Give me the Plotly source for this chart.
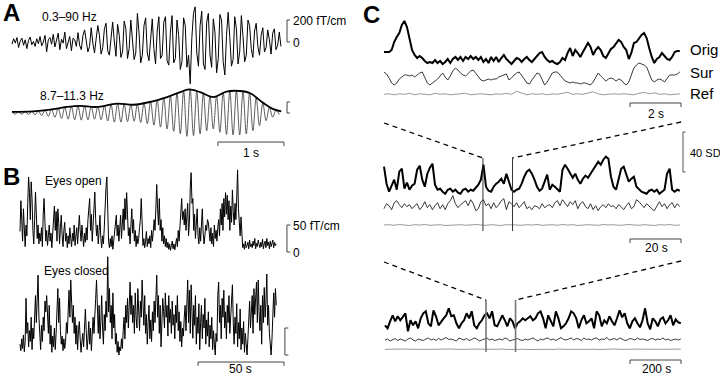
import numpy as np
import plotly.graph_objects as go

W, H = 720, 377
FONT = "Liberation Sans, Arial, Helvetica, sans-serif"

# ---------------- DATA ----------------
# Panel A: raw MEG (0.3-90 Hz), fT/cm, sampled every 0.025 s
raw_dt = 0.025
raw_a = [-20, 30, -10, 40, -50, 10, 35, -30, 20, -60, 15, 45, -25, 5, -40, 30, -15, 50, -35, 0,
         60, -90, 20, 40, -20, 70, -45, 10, 80, -70, 25, -10, 90, -60, 0, 50, -80, 35, 20, -40,
         85, -30, -70, 60,
         110, 20, -90, -40, 130, -10, -100, 30, 150, 60, -110, -50, 120, 170, -80, -120, 40, 180, 10, -130,
         160, 60, -140, -90, 190, 120, -150, -60, 200, 30, -160, -100, 260, 80, -190, -120, 150, 220, -100, -170,
         30, 210, -60, -200, 100, 230, -150, -120,
         180, 230, -170, -210, 90, 240, -190, -150, 200, 60, -250, -180, 220, 150, -230, -120, -380, 40, 260, 320,
         -100, -220, 150, 280,
         -200, -250, 180, 260, -120, -230, 210, 90, -280, -150, 250, 200, -180, -300, 60, 270, 40, -220, -160, 230,
         120, -200, -90, 240, 50, -180, -120, 200,
         150, -60, -140, 100, 170, -40, -120, 60, 130, -90, -50, 110, 20, -110, 80, 120, -70, -30, 90, -40]

# Panel A: filtered (8.7-11.3 Hz) signal, peaks/troughs every 0.05 s
filt_dt = 0.05
filt_a = [10, -10, 11, -12, 13, -14, 15, -17, 20, -24, 27, -31, 34, -39, 44, -49, 53, -56, 59, -62,
          64, -65, 64, -62, 60, -56, 56, -60, 66, -72, 78, -83, 85, -83, 80, -78, 76, -75, 80, -86,
          92, -97, 102, -110, 118, -128, 137, -145, 155, -166, 178, -190, 200, -212, 214, -205, 196, -190, 178, -163,
          150, -145, 155, -175, 190, -195, 198, -200, 200, -200, 196, -190, 180, -160, 138, -115, 90, -70, 50, -37,
          25, -15]
env_t = [0, 0.32, 0.58, 0.83, 1.03, 1.28, 1.59, 1.84, 2.09, 2.35, 2.55, 2.68, 2.85, 3.05, 3.25, 3.45, 3.61, 3.81, 3.96, 4.08]
env_a = [10, 15, 30, 55, 65, 55, 85, 75, 100, 145, 190, 215, 190, 145, 195, 200, 180, 90, 35, 15]

# Panel B: amplitude envelopes (fT/cm), one sample every 0.5 s
env_dt = 0.5
eyes_open = [38, 95, 60, 20, 80, 45, 10, 50, 30, 90,
             139, 110, 60, 130, 99, 40, 15, 60, 111, 70,
             25, 50, 15, 35, 20, 45, 10, 70, 99, 55,
             20, 40, 12, 30, 50, 20, 35, 8, 28, 60,
             85, 40, 75, 20, 80, 55, 15, 45, 68, 30,
             10, 40, 55, 20, 35, 8, 30, 15, 45, 25,
             10, 35, 20, 50, 12, 30, 45, 15, 55, 68,
             40, 20, 50, 25, 10, 35, 18, 45, 22, 60,
             85, 99, 40, 70, 20, 55, 90, 111, 60, 30,
             50, 15, 40, 68, 25, 8, 30, 15, 45, 90,
             120, 139, 60, 20, 8, 25, 10, 30, 5, 20,
             40, 60, 68, 30, 50, 20, 45, 68, 25, 55,
             80, 40, 99, 60, 110, 70, 30, 45, 15, 50,
             80, 35, 60, 20, 40, 10, 30, 15, 25, 45,
             60, 99, 30, 12, 25, 8, 20, 38, 10, 25,
             15, 30, 8, 40, 20, 35, 60, 40, 90, 125,
             80, 50, 99, 40, 60, 20, 45, 15, 30, 10,
             25, 8, 18, 5, 15, 3, 12, 20, 6, 15,
             4, 12, 25, 10, 40, 20, 55, 90, 99, 60,
             75, 50, 80, 40, 70, 90, 30, 55, 120, 147,
             90, 99, 40, 70, 25, 60, 80, 30, 15, 45,
             20, 50, 80, 35, 15, 30, 50, 40, 60, 55,
             35, 20, 45, 15, 35, 10, 50, 25, 40, 20,
             45, 60, 30, 80, 50, 90, 40, 99, 65, 110,
             70, 105, 60, 95, 40, 85, 55, 115, 75, 50,
             90, 60, 100, 152, 80, 55, 30, 65, 40, 8,
             15, 5, 20, 8, 12, 18, 6, 22, 10, 15,
             8, 20, 12, 25, 6, 16, 10, 22, 14, 8,
             18, 10, 24, 6, 15, 20, 8, 25, 12, 18,
             6, 20, 10, 16, 22, 8, 18, 12, 15]
eyes_closed = [20, 8, 30, 12, 37, 6, 25, 105, 40, 60,
               15, 45, 25, 70, 10, 50, 30, 85, 110, 60,
               123, 148, 70, 40, 10, 55, 25, 70, 45, 100,
               80, 110, 60, 40, 92, 20, 55, 5, 35, 15,
               50, 10, 40, 80, 123, 60, 105, 45, 20, 35,
               8, 30, 12, 25, 60, 40, 90, 120, 70, 139,
               100, 60, 92, 40, 70, 20, 55, 10, 45, 62,
               30, 5, 25, 40, 15, 60, 85, 45, 10, 30,
               62, 20, 50, 8, 35, 70, 40, 92, 105, 139,
               80, 40, 92, 30, 62, 110, 50, 20, 75, 45,
               100, 70, 182, 80, 123, 60, 92, 30, 115, 50,
               75, 20, 40, 5, 25, 0, 15, 8, 30, 12,
               45, 70, 30, 92, 60, 105, 50, 80, 135, 75,
               110, 60, 92, 40, 115, 70, 50, 123, 85, 45,
               100, 70, 139, 90, 55, 110, 40, 75, 20, 60,
               92, 30, 65, 25, 80, 45, 100, 60, 120, 148,
               70, 110, 40, 92, 15, 60, 105, 80, 50, 115,
               70, 92, 35, 110, 60, 85, 40, 100, 55, 75,
               30, 92, 60, 110, 45, 80, 25, 62, 15, 50,
               35, 70, 92, 45, 100, 139, 60, 120, 40, 130,
               80, 31, 92, 55, 110, 20, 70, 40, 95, 10,
               60, 92, 30, 75, 50, 105, 20, 65, 35, 80,
               15, 55, 30, 70, 10, 45, 20, 0, 40, 25,
               110, 135, 60, 92, 30, 105, 70, 120, 50, 80,
               30, 92, 60, 110, 40, 75, 100, 130, 60, 20,
               70, 40, 95, 15, 60, 30, 85, 10, 50, 20,
               62, 5, 40, 25, 0, 30, 70, 100, 50, 92,
               110, 40, 123, 75, 100, 135, 60, 139, 80, 45,
               92, 20, 110, 60, 125, 70, 100, 150, 55, 92,
               40, 10, 0, 30, 92, 115, 70, 123, 92]

# Panel C (SD units). Scale 1: dt 0.1 s; scale 2: dt 1 s; scale 3: dt 10 s
c1_dt, c2_dt, c3_dt = 0.1, 1.0, 10.0
c1_orig = [6, 6, 6, 8, 16, 21, 25, 33, 37, 31, 18, 8, 3, 0, 2, 0, -3, -5, -4, -5,
           -2, -5, -3, -6, -4, -1, -5, -1, 1, -2, 1, -3, 1, -1, 2, -1, 1, -2, 1, -4,
           -1, -5, 1, -3, 1, -4, 0, 3, -1, -4, -6, -3, 0, -1, -4, -1, 1, -2, -4, -1,
           2, 5, 6, 1, -2, -4, -3, -5, -6, -4, 0, -2, 5, 10, 2, 8, 5, 1, 6, 11,
           15, 11, 3, 8, 11, 8, 2, 0, 5, 9, 11, 15, 18, 16, 11, 8, -1, 5, 15, 16,
           20, 23, 25, 20, 10, 1, -5, -1, 1, 5, 2, -1, -2, 1, 6, 7, 7]
c1_sur = [8, 6, 2, -3, -5, -3, 1, 3, 5, 5, 4, 5, 3, 5, 7, 8, 3, -3, -5, -3,
          -1, 1, 4, 7, 3, 0, 4, 9, 12, 10, 7, 5, 4, 7, 9, 10, 7, 3, 0, -1,
          0, 1, 0, 1, 1, 3, 4, 5, 6, 0, 2, 5, 7, 8, 5, 1, -3, -4, 0, 4,
          7, 6, 0, -5, -2, 3, 7, 8, 8, 5, 2, -1, -2, -3, -2, -3, -3, -4, -3, -3,
          -4, -5, -2, 3, 7, 4, 1, -1, 1, 2, 1, -1, 1, 0, -3, -5, -2, 5, 12, 15,
          17, 16, 15, 13, 6, 0, -2, 0, 1, 0, -2, 2, 5, 5, 5, 6, 8]
c1_ref = [0, 0.5, -0.5, 0.5, 0, 1, -0.5, 0.5, 0, -0.5, 1, 0, 0.5, -0.5, 0, 0.5, 1, -0.5, 0, 0.5,
          0, -0.5, 0.5, 0, 1, 0, 3, 1.5, -0.5, 0.5, 0, 0.5, -0.5, 0.5, 0, 1, 2, 0, 0.5, 0,
          1, 2.5, 0.5, -0.5, 0, 0.5, 0, 0.5, 0, -0.5, 1, 2, 0.5, 1.5, 0, 0.5, -0.5, 0, 0.5]
c2_orig = [25, 8, 0, 7, 12, 2, 20, 23, 3, 9, 2, 6, 8, 22, 26, 12, 5, 18, 24, 28,
           7, 2, 3, 0, -2, 2, 3, 0, 2, -1, -2, 2, 3, 0, 2, 1, 4, 7, 12, 27,
           5, 1, 0, 5, 8, 10, 13, 8, 18, 10, 2, 0, 2, 3, 8, 15, 20, 22, 18, 12,
           5, 1, 3, 10, 17, 2, 7, 5, 2, 0, 22, 27, 23, 18, 14, 18, 12, 8, 13, 16,
           14, 18, 22, 25, 30, 27, 32, 35, 33, 15, 5, 2, 12, 23, 25, 18, 10, 13, 15, 5,
           2, 0, -1, -2, 1, 2, 0, 2, -2, 0, 2, 18, 23, 2, 0, 2, 1]
c2_sur = [-2, 3, 1, -3, 4, 6, 2, -1, 3, 0, 2, -2, 1, 3, -3, 0, 5, -1, 2, -3,
          1, 4, -2, 2, -3, 3, 6, 11, 3, -1, 2, 4, 6, 1, 7, 3, -4, -2, 5, 7,
          1, 3, -2, 4, -1, 2, 6, 8, -3, 5, 3, 0, 4, -1, 2, 5, -2, 0, -3, 1,
          0, -2, 3, -1, 1, 2, -1, 4, 6, 1, 7, 3, 0, 5, 2, 6, -2, 3, 5, 0,
          -2, 3, -3, 1, -4, 0, 2, -1, 3, 0, 1, -2, 2, 0, -3, 1, 4, -2, 0, 7,
          5, 2, -1, 3, 0, -2, -4, 1, 5, 0, 3, -2, 2, 4, -1, 3, 0]
c2_ref = [0, 0.3, -0.3, 0.5, 0, -0.5, 0.3, 0, 0.5, -0.3, 0, 0.3, -0.5, 0, 0.5, 0.3, -0.3, 0, 0.5, 0,
          -0.3, 0.3, 0, -0.5, 0.3, 0.5, 0, -0.3, 0.3, 0, 0.5, -0.3, 0, 0.3, -0.3, 0.5, 0, 0.3, -0.5, 0,
          0.3, 0, -0.3, 0.5, 0, 0.3, -0.3, 0, 0.5, 0, -0.3, 0.3, 0, -0.5, 0.3, 0, 0.5, -0.3, 0]
c3_orig = [-2, -5, 2, 8, 2, 7, 3, 7, 10, -8, 3, -2, 2, -5, 5, 10, 12, 0, -3, 13,
           7, -2, 2, 5, 8, 15, 7, 8, 0, -5, 0, 3, 10, 5, 12, -2, -5, 0, 3, 8,
           10, 5, 12, -2, -3, 2, 8, 3, -3, 5, 2, -5, 0, 2, 5, 3, 5, 7, 3, 5,
           10, 12, 5, -5, 8, 2, -3, 12, 5, -5, -3, 0, 5, 12, 10, 5, -5, 3, 8, 0,
           2, 5, -5, 12, 8, -3, 3, 0, 7, 2, -2, 5, 13, 6, 10, 0, -5, 2, 5, 0,
           -4, 3, 15, 0, -6, 5, 2, -3, 4, 6, 0, 3, 8, -2, 4, 1, 0]
c3_sur = [0, 1, -1, 0.5, 1.5, -0.5, 1, 0, -1, 1, 2, 0, -1, 1, 0.5, -0.5, 1, 2, 0, 1,
          -0.5, 1.5, 0, 1, 2.5, 0.5, 1, 0, -1, 2, 1, 0, 1.5, -0.5, 0.5, 2, 1, -1, 0, 1,
          2, 0, 1, -0.5, 0.5, 1, 0, 2, 1, -1, 0, 0.5, 1.5, 0, -0.5, 1, 0, 1, 2, 0.5,
          -1, 1, 0, 1.5, 2, 0, 1, -0.5, 1, 2.5, 0.5, 0, 1, 2, 0, 1.5, 1, -0.5, 2, 0.5,
          1, 0, 1.5, 2, 0, 1, 0.5, 2.5, 0, 1, 1.5, 0, 2, 1, -0.5, 0, 1.5, 1, 0, 2,
          0.5, 1, 0, -0.5, 1, 1.5, 0, 1, 0.5, 2, 0, 1, -0.5, 0.5, 1, 0, 1]
c3_ref = [0, 0.2, -0.2, 0, 0.3, 0, -0.2, 0.2, 0, 0, 0.2, -0.2, 0, 0.3, 0, -0.2, 0, 0.2, 0, -0.2,
          0.2, 0, 0, 0.3, -0.2, 0, 0.2, 0, -0.2, 0, 0.2, 0, 0, -0.2, 0.3, 0, 0.2, -0.2, 0, 0,
          0.2, 0, -0.2, 0.2, 0, 0.3, 0, -0.2, 0, 0.2, 0, -0.2, 0.2, 0, 0, 0.2, -0.2, 0, 0.2]
c3_ref_dt = 20.0
c12_ref_dt = (0.2, 2.0)

# zoom windows (s): window of scale 1 inside scale 2, window of scale 2 inside scale 3
win2 = [38.8, 50.4]
win3 = [396, 512]

# scale bar values
sb_A_amp = 200     # fT/cm
sb_A2_amp = 100
sb_A_time = 1      # s
sb_B_amp = 50
sb_B_time = 50
sb_C_sd = 40
sb_C_times = [2, 20, 200]

# ---------------- LAYOUT HELPERS ----------------
layout = dict(width=W, height=H, margin=dict(l=0, r=0, t=0, b=0),
              paper_bgcolor="white", plot_bgcolor="rgba(0,0,0,0)",
              showlegend=False, shapes=[], annotations=[])
AX = {}


def add_axes(n, box, x0, sx, y0, sy):
    l, r, t, b = box
    key = "" if n == 1 else str(n)
    layout["xaxis" + key] = dict(domain=[l / W, r / W], range=[(l - x0) / sx, (r - x0) / sx],
                                 visible=False, fixedrange=True, anchor="y" + key)
    layout["yaxis" + key] = dict(domain=[1 - b / H, 1 - t / H], range=[(y0 - b) / sy, (y0 - t) / sy],
                                 visible=False, fixedrange=True, anchor="x" + key)
    AX[n] = dict(x="x" + key, y="y" + key, x0=x0, sx=sx, y0=y0, sy=sy)


def to_paper(n, xv, yv):
    a = AX[n]
    px = a["x0"] + xv * a["sx"]
    py = a["y0"] - yv * a["sy"]
    return px / W, 1 - py / H


def text(s, px, py, size=12, xanchor="left", bold=False):
    layout["annotations"].append(dict(
        text=("<b>%s</b>" % s) if bold else s, x=px / W, y=1 - py / H, xref="paper", yref="paper",
        xanchor=xanchor, yanchor="middle", showarrow=False,
        font=dict(family=FONT, size=size, color="black")))


def shape_path(n, pts, color="#333", width=1, dash="solid"):
    a = AX[n]
    d = "M " + " L ".join("%g,%g" % p for p in pts)
    layout["shapes"].append(dict(type="path", path=d, xref=a["x"], yref=a["y"],
                                 line=dict(color=color, width=width, dash=dash)))


def paper_line(p0, p1, color="black", width=1.3, dash="5px,4px"):
    layout["shapes"].append(dict(type="line", xref="paper", yref="paper",
                                 x0=p0[0], y0=p0[1], x1=p1[0], y1=p1[1],
                                 line=dict(color=color, width=width, dash=dash)))


traces = []


def line(n, t, v, color="black", width=1.0, shape="linear"):
    a = AX[n]
    traces.append(go.Scatter(x=t, y=v, mode="lines", xaxis=a["x"], yaxis=a["y"],
                             line=dict(color=color, width=width, shape=shape),
                             hoverinfo="skip"))


# ---------------- PANEL A ----------------
add_axes(1, (0, 360, 0, 95), 12, 66, 42, 22 / 200)
add_axes(2, (0, 360, 85, 160), 12, 66, 113, 22 / 200)
t_raw = np.arange(len(raw_a)) * raw_dt
line(1, t_raw, raw_a, width=1.0)
t_f = np.arange(len(filt_a)) * filt_dt
line(2, t_f, filt_a, color="#333", width=0.8, shape="spline")
line(2, env_t, env_a, color="black", width=1.8, shape="spline")

tk = 0.045
xb = 4.167
shape_path(1, [(xb + tk, sb_A_amp), (xb, sb_A_amp), (xb, 0), (xb + tk, 0)], color="#444")
shape_path(2, [(xb + tk, sb_A2_amp), (xb, sb_A2_amp), (xb, 0), (xb + tk, 0)], color="#444")
ty = -264
shape_path(2, [(3.12, ty - 36), (3.12, ty), (3.12 + sb_A_time, ty), (3.12 + sb_A_time, ty - 36)], color="#444")

text("A", 1, 12, size=24, bold=True)
text("0.3–90 Hz", 40, 17)
text("200 fT/cm", 291, 21)
text("0", 291, 43)
text("8.7–11.3 Hz", 38, 96)
text("1 s", 251, 153, xanchor="center")

# ---------------- PANEL B ----------------
add_axes(3, (0, 360, 160, 258), 20, 86 / 50, 252, 27 / 50)
add_axes(4, (0, 360, 250, 377), 20, 86 / 50, 355, 27 / 50)
line(3, np.arange(len(eyes_open)) * env_dt, eyes_open, width=1.0)
line(4, np.arange(len(eyes_closed)) * env_dt, eyes_closed, width=1.0)
tkb = 2.0
shape_path(3, [(155.2 + tkb, sb_B_amp), (155.2, sb_B_amp), (155.2, 0), (155.2 + tkb, 0)], color="#444")
shape_path(4, [(154.0 + tkb, sb_B_amp), (154.0, sb_B_amp), (154.0, 0), (154.0 + tkb, 0)], color="#444")
yb = -13
shape_path(4, [(103.5, yb - 7), (103.5, yb), (103.5 + sb_B_time, yb), (103.5 + sb_B_time, yb - 7)], color="#444")

text("B", 1, 176, size=24, bold=True)
text("Eyes open", 43, 181)
text("50 fT/cm", 291, 226)
text("0", 291, 253)
text("Eyes closed", 42, 271)
text("50 s", 240, 369, xanchor="center")

# ---------------- PANEL C ----------------
# offsets place Orig / Sur / Ref rows within each group (SD units, 1 SD = 1 px)
add_axes(5, (360, 720, 0, 130), 384, 25.5, 100, 1)
add_axes(6, (360, 720, 120, 260), 384, 2.55, 240, 1)
add_axes(7, (360, 720, 255, 377), 385, 0.255, 370, 1)
offs = {5: (42, 20, 5.7), 6: (48.3, 33.3, 15), 7: (46.7, 30, 20.7)}
groups = {5: (c1_orig, c1_sur, c1_ref, c1_dt, c12_ref_dt[0]),
          6: (c2_orig, c2_sur, c2_ref, c2_dt, c12_ref_dt[1]),
          7: (c3_orig, c3_sur, c3_ref, c3_dt, c3_ref_dt)}
for n, (o, s, r, dt, rdt) in groups.items():
    oo, so, ro = offs[n]
    line(n, np.arange(len(o)) * dt, np.array(o) + oo, color="black", width=2.0)
    line(n, np.arange(len(s)) * dt, np.array(s) + so, color="#222", width=0.9)
    line(n, np.arange(len(r)) * rdt, np.array(r) + ro, color="#999", width=1.0)

# window markers
for w in win2:
    shape_path(6, [(w, 82), (w, 9)], color="#333", width=1.0)
for w in win3:
    shape_path(7, [(w, 70), (w, 18)], color="#777", width=1.6)

# dashed zoom connectors
t1_end = (len(c1_orig) - 1) * c1_dt
t2_end = (len(c2_orig) - 1) * c2_dt
paper_line(to_paper(5, 0, -23), to_paper(6, win2[0], 82))
paper_line(to_paper(5, t1_end + 0.05, -22), to_paper(6, win2[1], 82))
paper_line(to_paper(6, 0, -22), to_paper(7, win3[0], 70))
paper_line(to_paper(6, t2_end + 0.5, -21), to_paper(7, win3[1], 70))

# time scale bars
for n, sbt, yv in [(5, sb_C_times[0], -3), (6, sb_C_times[1], 1), (7, sb_C_times[2], 10)]:
    a = AX[n]
    x_end = (681 - a["x0"]) / a["sx"]
    shape_path(n, [(x_end - sbt, yv - 4), (x_end - sbt, yv), (x_end, yv), (x_end, yv - 4)], color="#444")
# 40 SD bar
xs = (683 - 384) / 2.55
shape_path(6, [(xs + 1, 108), (xs, 108), (xs, 108 - sb_C_sd), (xs + 1, 108 - sb_C_sd)], color="#555")

text("C", 361, 15, size=24, bold=True)
text("Orig", 688, 50, size=15)
text("Sur", 688, 72, size=15)
text("Ref", 688, 94, size=15)
text("2 s", 656, 114, xanchor="center")
text("40 SD", 688, 153, size=11)
text("20 s", 656, 248, xanchor="center")
text("200 s", 656, 369, xanchor="center")

fig = go.Figure(data=traces, layout=layout)
fig.write_html("out.html", config={"displayModeBar": False, "staticPlot": True},
               post_script="document.body.style.margin='0';document.body.style.overflow='hidden';")
